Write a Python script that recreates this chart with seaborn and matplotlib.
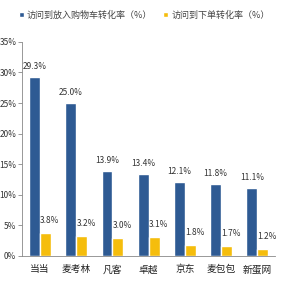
import matplotlib
matplotlib.use("Agg")
import matplotlib.pyplot as plt
import seaborn as sns
import pandas as pd
import numpy as np

categories = ["当当", "麦考林", "凡客", "卓越", "京东", "麦包包", "新蛋网"]
cart_rate = [29.3, 25.0, 13.9, 13.4, 12.1, 11.8, 11.1]
order_rate = [3.8, 3.2, 3.0, 3.1, 1.8, 1.7, 1.2]
series = ["访问到放入购物车转化率（%）", "访问到下单转化率（%）"]
yticks = [0, 5, 10, 15, 20, 25, 30, 35]

sns.set_theme(style="white")
plt.rcParams['font.family'] = ['Noto Sans CJK SC', 'DejaVu Sans']

df = pd.DataFrame({
    "cat": categories * 2,
    "val": cart_rate + order_rate,
    "series": [series[0]] * len(categories) + [series[1]] * len(categories),
})

fig = plt.figure(figsize=(2.81, 2.81), dpi=100)
ax = fig.add_axes([0.078, 0.089, 0.902, 0.762])
palette = {series[0]: "#2E5A93", series[1]: "#F5BD0C"}
sns.barplot(data=df, x="cat", y="val", hue="series", palette=palette,
            width=0.6, gap=0, ax=ax, legend=True, saturation=1)

for i, cont in enumerate(ax.containers):
    for bar in cont:
        h = bar.get_height()
        if i == 0:
            ax.text(bar.get_x() + bar.get_width() / 2, h + 1.0, f"{h:.1f}%",
                    ha="center", va="bottom", fontsize=6, color="#333333")
        else:
            ax.text(bar.get_x() + bar.get_width() / 2 + 0.12, h + 1.3, f"{h:.1f}%",
                    ha="center", va="bottom", fontsize=6, color="#333333")

ax.set_ylim(0, 35)
ax.set_yticks(yticks)
ax.set_yticklabels([f"{t}%" for t in yticks], fontsize=6, color="#333333")
ax.set_xlim(-0.5, len(categories) - 0.5)
ax.set_xticks(range(len(categories)))
ax.set_xticklabels(categories, fontsize=7, color="#222222")
ax.set_xticks(np.arange(-0.5, len(categories), 1), minor=True)
ax.tick_params(axis="x", which="major", length=0, pad=6)
ax.tick_params(axis="x", which="minor", length=3, color="#888888", width=0.6)
ax.tick_params(axis="y", length=3, color="#888888", width=0.6, pad=1, left=True)
ax.set_xlabel("")
ax.set_ylabel("")
for s in ["top", "right"]:
    ax.spines[s].set_visible(False)
for s in ["left", "bottom"]:
    ax.spines[s].set_color("#888888")
    ax.spines[s].set_linewidth(0.6)

leg = ax.legend(loc="upper left", bbox_to_anchor=(-0.045, 1.185), ncol=2, frameon=False,
                fontsize=6.5, handlelength=0.6, handleheight=0.6, handletextpad=0.3,
                columnspacing=1.2)
for t in leg.get_texts():
    t.set_color("#444444")

fig.savefig("out.png", dpi=100)
